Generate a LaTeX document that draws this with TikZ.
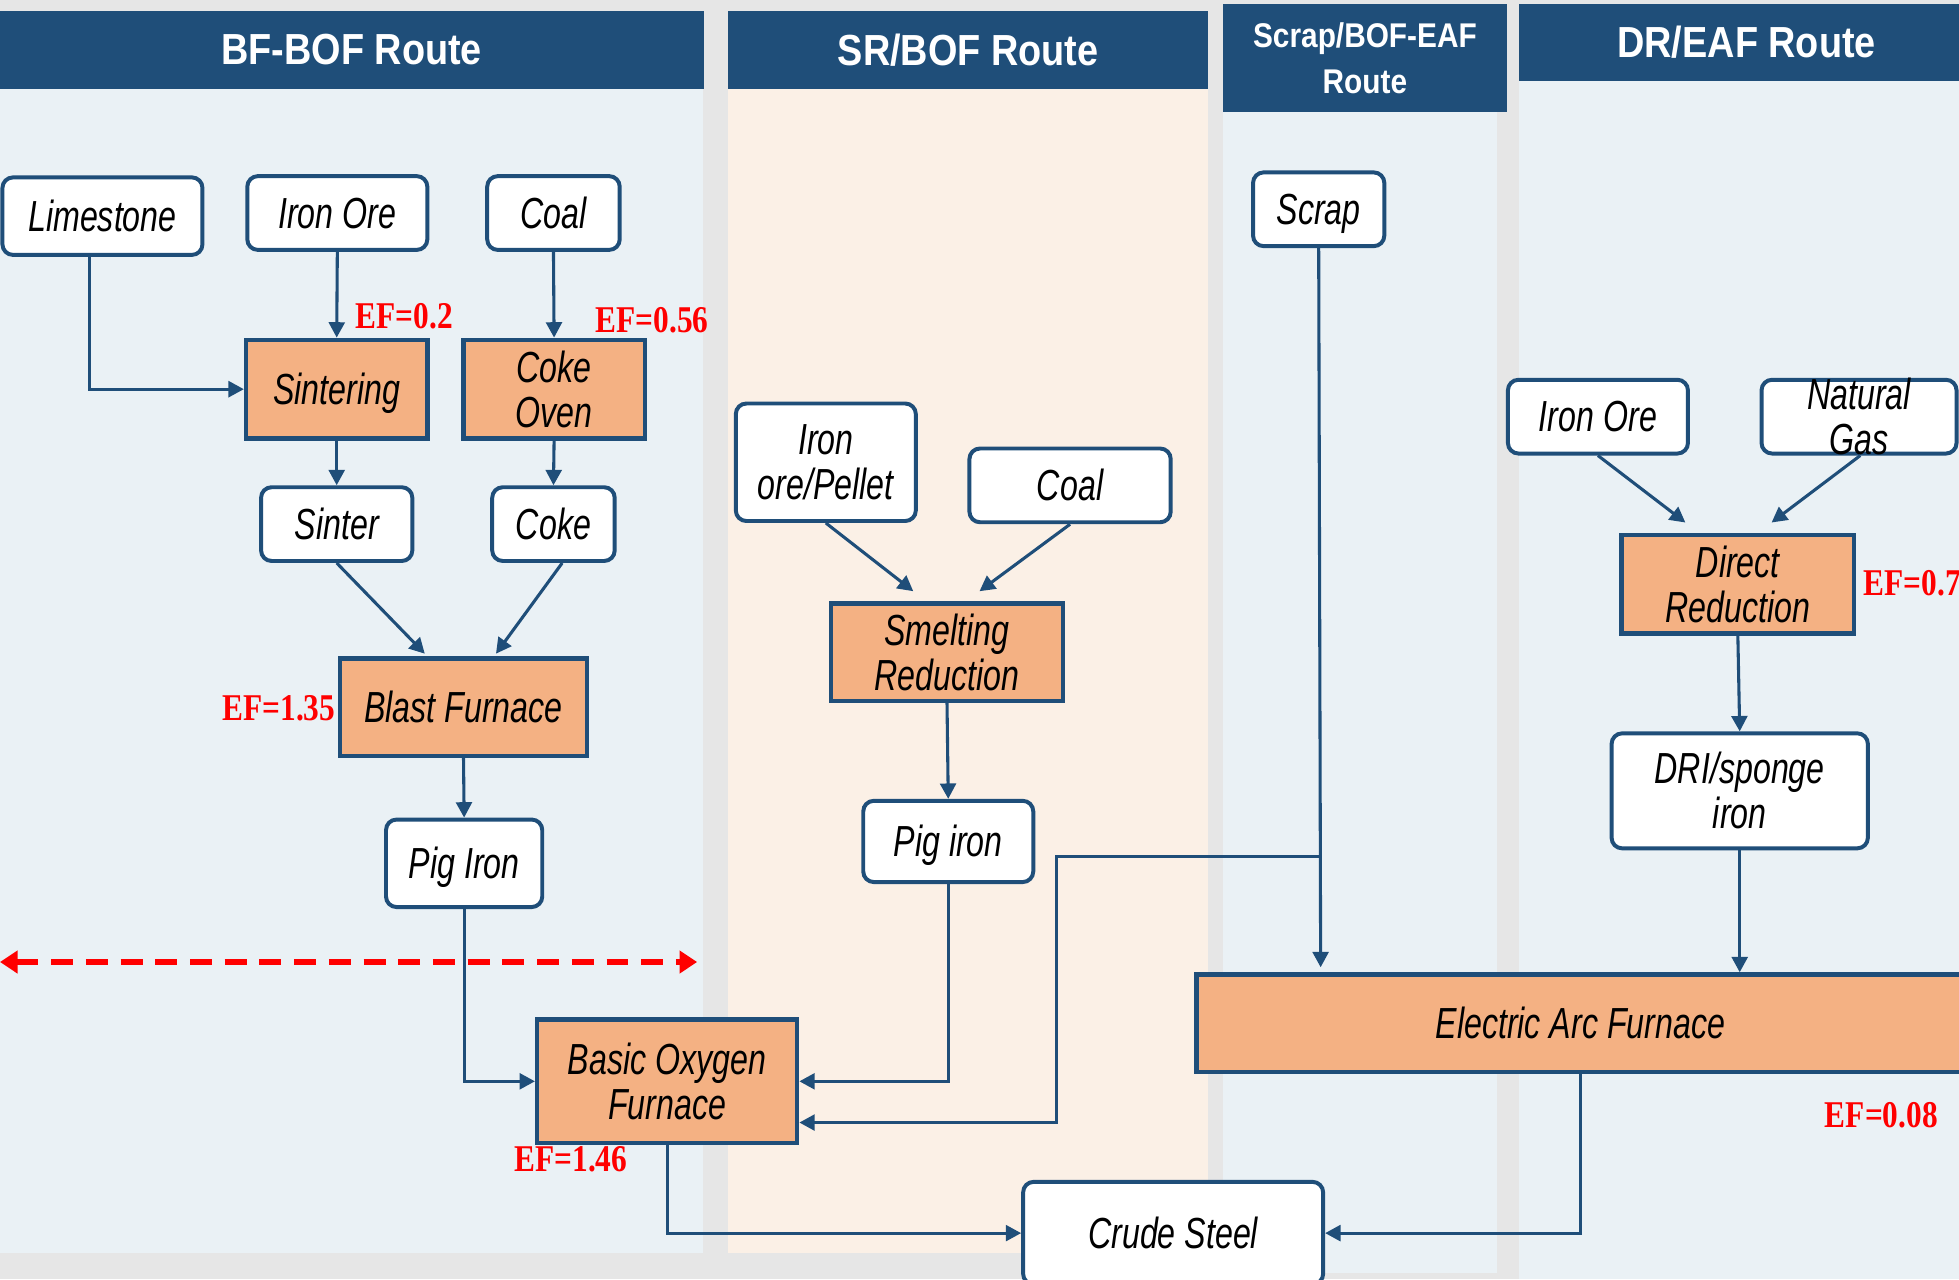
\documentclass[tikz,border=0pt]{standalone}
\usepackage{fontspec}
\setmainfont{Liberation Sans}
\newfontfamily\boxfont[FakeStretch=0.74]{Liberation Sans}
\newfontfamily\headfont[FakeStretch=0.87]{Liberation Sans}
\newfontfamily\effont[FakeStretch=0.83]{Liberation Serif}
\usetikzlibrary{arrows.meta,calc}
\definecolor{dblue}{HTML}{1F4E79}
\definecolor{orng}{HTML}{F4B183}
\definecolor{lblue}{HTML}{EAF1F5}
\definecolor{beige}{HTML}{FBF0E6}
\definecolor{bggray}{HTML}{E6E6E6}
\tikzset{
  boxtext/.style={font=\boxfont\itshape\fontsize{9.9}{10.2}\selectfont, text=black},
  single/.style={text height=8.96pt, text depth=2.1pt},
  inbox/.style={boxtext, draw=dblue, line width=0.9pt, fill=white, rounded corners=2.4pt, align=center, inner sep=0pt},
  procbox/.style={boxtext, draw=dblue, line width=1pt, fill=orng, align=center, inner sep=0pt},
  conn/.style={draw=dblue, line width=0.7pt, -{Triangle[length=3.5pt,width=3.6pt]}},
  eflab/.style={text=red, font=\effont\bfseries\fontsize{8.6}{9}\selectfont, inner sep=0pt},
  headbox/.style={fill=dblue, text=white, inner sep=0pt, align=center, font=\headfont\bfseries\fontsize{9.9}{11}\selectfont},
  redarrow/.style={draw=red, line width=1.4pt, dash pattern=on 5pt off 2.9pt, {Triangle[length=4pt,width=5pt]}-{Triangle[length=4pt,width=5pt]}}
}
\begin{document}
\begin{tikzpicture}[x=0.01cm,y=-0.01cm]
\useasboundingbox (0,0) rectangle (1568,1024);
\clip (0,0) rectangle (1568,1024);
\fill[bggray] (0,0) rectangle (1568,1024);
% column bodies
\fill[lblue] (0,70) rectangle (563,1003);
\fill[beige] (583,70) rectangle (967,1003);
\fill[lblue] (979,90) rectangle (1198,1019);
\fill[lblue] (1216,64) rectangle (1568,1024);
% headers
\node[headbox, minimum width=5.63cm, minimum height=0.62cm] (h1) at (281.5,40) {BF-BOF Route};
\node[headbox, minimum width=3.84cm, minimum height=0.62cm] (h2) at (775,40) {SR/BOF Route};
\node[headbox, minimum width=2.27cm, minimum height=0.87cm, font=\headfont\bfseries\fontsize{7.8}{10.5}\selectfont] (h3) at (1092.5,46.5) {Scrap/BOF-EAF\\Route};
\node[headbox, minimum width=3.64cm, minimum height=0.61cm] (h4) at (1398,34) {DR/EAF Route};
% BF-BOF route
\node[inbox, single, minimum width=1.60cm, minimum height=0.62cm] (lime) at (82,173) {Limestone};
\node[inbox, single, minimum width=1.44cm, minimum height=0.59cm] (ioreA) at (270,170.5) {Iron Ore};
\node[inbox, single, minimum width=1.06cm, minimum height=0.59cm] (coalA) at (443,170.5) {Coal};
\node[procbox, single, minimum width=1.45cm, minimum height=0.79cm] (sint) at (269.5,311.5) {Sintering};
\node[procbox, minimum width=1.45cm, minimum height=0.79cm] (cokeov) at (443.5,311.5) {Coke\\Oven};
\node[inbox, single, minimum width=1.21cm, minimum height=0.59cm] (sinter) at (269.5,419.5) {Sinter};
\node[inbox, single, minimum width=0.98cm, minimum height=0.59cm] (coke) at (443,419.5) {Coke};
\node[procbox, single, minimum width=1.98cm, minimum height=0.78cm] (bf) at (371,566) {Blast Furnace};
\node[inbox, single, minimum width=1.25cm, minimum height=0.70cm] (pigA) at (371.5,691) {Pig Iron};
\node[procbox, minimum width=2.08cm, minimum height=0.99cm] (bof) at (534,865.5) {Basic Oxygen\\Furnace};
% SR/BOF route
\node[inbox, minimum width=1.44cm, minimum height=0.94cm] (ipel) at (661,370) {Iron\\ore/Pellet};
\node[inbox, single, minimum width=1.61cm, minimum height=0.59cm] (coalB) at (856.5,388.5) {Coal};
\node[procbox, minimum width=1.86cm, minimum height=0.78cm] (smelt) at (758,522) {Smelting\\Reduction};
\node[inbox, single, minimum width=1.36cm, minimum height=0.65cm] (pigB) at (759,673.5) {Pig iron};
% Scrap route
\node[inbox, single, minimum width=1.05cm, minimum height=0.59cm] (scrap) at (1055.5,167.5) {Scrap};
% DR/EAF route
\node[inbox, single, minimum width=1.44cm, minimum height=0.59cm] (ioreC) at (1279,333.5) {Iron Ore};
\node[inbox, minimum width=1.56cm, minimum height=0.59cm, label={[boxtext, align=center, inner sep=0pt]center:{Natural\\Gas}}] (ngas) at (1488,333.5) {};
\node[procbox, minimum width=1.86cm, minimum height=0.79cm] (dr) at (1391,467.5) {Direct\\Reduction};
\node[inbox, minimum width=2.05cm, minimum height=0.92cm] (dri) at (1392.5,633) {DRI/sponge\\iron};
\node[procbox, single, minimum width=6.14cm, minimum height=0.78cm] (eaf) at (1265,819) {Electric Arc Furnace};
\node[inbox, single, minimum width=2.40cm, minimum height=0.82cm] (crude) at (939,987) {Crude Steel};
% connectors
\draw[conn] ($(lime.south)+(-10,0)$) |- (sint.west);
\draw[conn] (ioreA.south) -- (sint.north);
\draw[conn] (coalA.south) -- (cokeov.north);
\draw[conn] (sint.south) -- (sinter.north);
\draw[conn] (cokeov.south) -- (coke.north);
\draw[conn] (sinter.south) -- ($(bf.north)+(-31,-2)$);
\draw[conn] ($(coke.south)+(7,0)$) -- ($(bf.north)+(26,-2)$);
\draw[conn] (bf.south) -- (pigA.north);
\draw[conn] (pigA.south) |- (bof.west);
\draw[conn] (ipel.south) -- ($(smelt.north)+(-27,-8)$);
\draw[conn] (coalB.south) -- ($(smelt.north)+(26,-8)$);
\draw[conn] (smelt.south) -- (pigB.north);
\draw[conn] (pigB.south) |- (bof.east);
\draw[conn] (scrap.south) -- ($(eaf.north west)+(101,-4)$);
\draw[conn] ($(scrap.south)+(0.5,487)$) -- ++(-210,0) |- ($(bof.east)+(0,33)$);
\draw[conn] (ioreC.south) -- ($(dr.north)+(-42,-8)$);
\draw[conn] ($(ngas.south)+(1,0)$) -- ($(dr.north)+(27,-8)$);
\draw[conn] (dr.south) -- (dri.north);
\draw[conn] (dri.south) -- (dri.south |- eaf.north);
\draw[conn] (eaf.south) |- (crude.east);
\draw[conn] (bof.south) |- (crude.west);
% red dashed boundary
\coordinate (rl) at (0,770);
\coordinate (rr) at (558,770);
\draw[redarrow] (rl) -- (rr);
% emission factors
\node[eflab, anchor=west] (ef1) at (284,253) {EF=0.2};
\node[eflab, anchor=west] (ef2) at (476,256) {EF=0.56};
\node[eflab, anchor=east] (ef3) at (269,567) {EF=1.35};
\node[eflab, anchor=west] (ef4) at (411,928) {EF=1.46};
\node[eflab, anchor=west] (ef5) at (1491,467) {EF=0.7};
\node[eflab, anchor=west] (ef6) at (1460,893) {EF=0.08};
\end{tikzpicture}
\end{document}
